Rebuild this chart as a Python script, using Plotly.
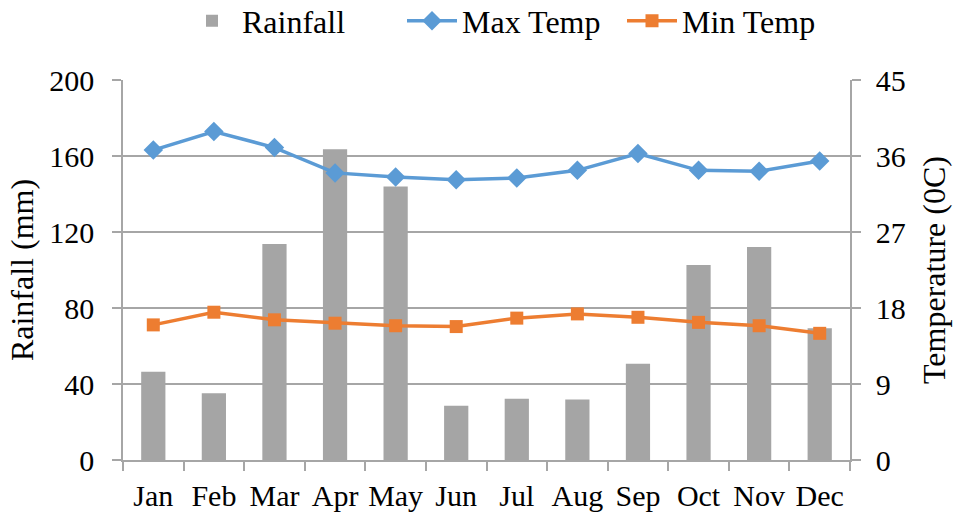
import plotly.graph_objects as go

months = ["Jan", "Feb", "Mar", "Apr", "May", "Jun", "Jul", "Aug", "Sep", "Oct", "Nov", "Dec"]
rainfall = [46.5, 35.1, 113.7, 163.5, 143.9, 28.6, 32.3, 31.9, 50.7, 102.6, 112.1, 69.3]
max_temp = [36.7, 38.9, 37.0, 34.0, 33.5, 33.2, 33.4, 34.3, 36.3, 34.3, 34.2, 35.4]
min_temp = [16.0, 17.5, 16.6, 16.2, 15.9, 15.8, 16.8, 17.3, 16.9, 16.3, 15.9, 15.0]

rain_ticks = [0, 40, 80, 120, 160, 200]
temp_ticks = [0, 9, 18, 27, 36, 45]

FONT = "Liberation Serif"
GRID = "#a6a6a6"

fig = go.Figure()
fig.add_trace(go.Bar(x=months, y=rainfall, name="Rainfall", marker_color="#a5a5a5",
                     marker_line_width=0, width=0.4))
fig.add_trace(go.Scatter(x=months, y=max_temp, name="Max Temp", yaxis="y2",
                         mode="lines+markers",
                         line=dict(color="#5b9bd5", width=3.5),
                         marker=dict(symbol="diamond", size=15, color="#5b9bd5")))
fig.add_trace(go.Scatter(x=months, y=min_temp, name="Min Temp", yaxis="y2",
                         mode="lines+markers",
                         line=dict(color="#ed7d31", width=3.5),
                         marker=dict(symbol="square", size=13, color="#ed7d31")))

fig.update_layout(
    width=954, height=514,
    margin=dict(l=123, r=104, t=80, b=54),
    paper_bgcolor="white", plot_bgcolor="white",
    font=dict(family=FONT, size=30, color="black"),
    showlegend=True,
    legend=dict(orientation="h", x=182 / 954, xanchor="left", xref="container",
                y=1 - 21 / 514, yanchor="middle", yref="container",
                font=dict(size=32), itemwidth=50, entrywidth=155,
                entrywidthmode="pixels", tracegroupgap=0,
                bgcolor="rgba(0,0,0,0)"),
    bargap=0.6,
    xaxis=dict(type="category", range=[-0.5, 11.5], showline=True, linecolor=GRID,
               linewidth=1.5, ticks="outside", tickson="boundaries", ticklen=9,
               tickcolor=GRID, tickwidth=1.5, showgrid=False, tickangle=0,
               automargin=False, tickfont=dict(size=30), ticklabelstandoff=8),
    yaxis=dict(range=[0, 200], tickvals=rain_ticks, showline=True, linecolor=GRID,
               linewidth=1.5, ticks="outside", ticklen=9, tickcolor=GRID, tickwidth=1.5,
               showgrid=True, gridcolor=GRID, gridwidth=1.5, zeroline=False,
               automargin=False, tickfont=dict(size=30), ticklabelstandoff=12,
               title=dict(text="Rainfall (mm)", font=dict(size=32), standoff=6)),
    yaxis2=dict(range=[0, 45], tickvals=temp_ticks, overlaying="y", side="right",
                showline=True, linecolor=GRID, linewidth=1.5, ticks="outside",
                ticklen=9, tickcolor=GRID, tickwidth=1.5, showgrid=False,
                automargin=False, zeroline=False, tickfont=dict(size=30),
                ticklabelstandoff=9,
                title=dict(text="Temperature (0C)", font=dict(size=32), standoff=18)),
)

fig.write_html("out.html", config={"displayModeBar": False},
               post_script="document.body.style.margin='0';")
